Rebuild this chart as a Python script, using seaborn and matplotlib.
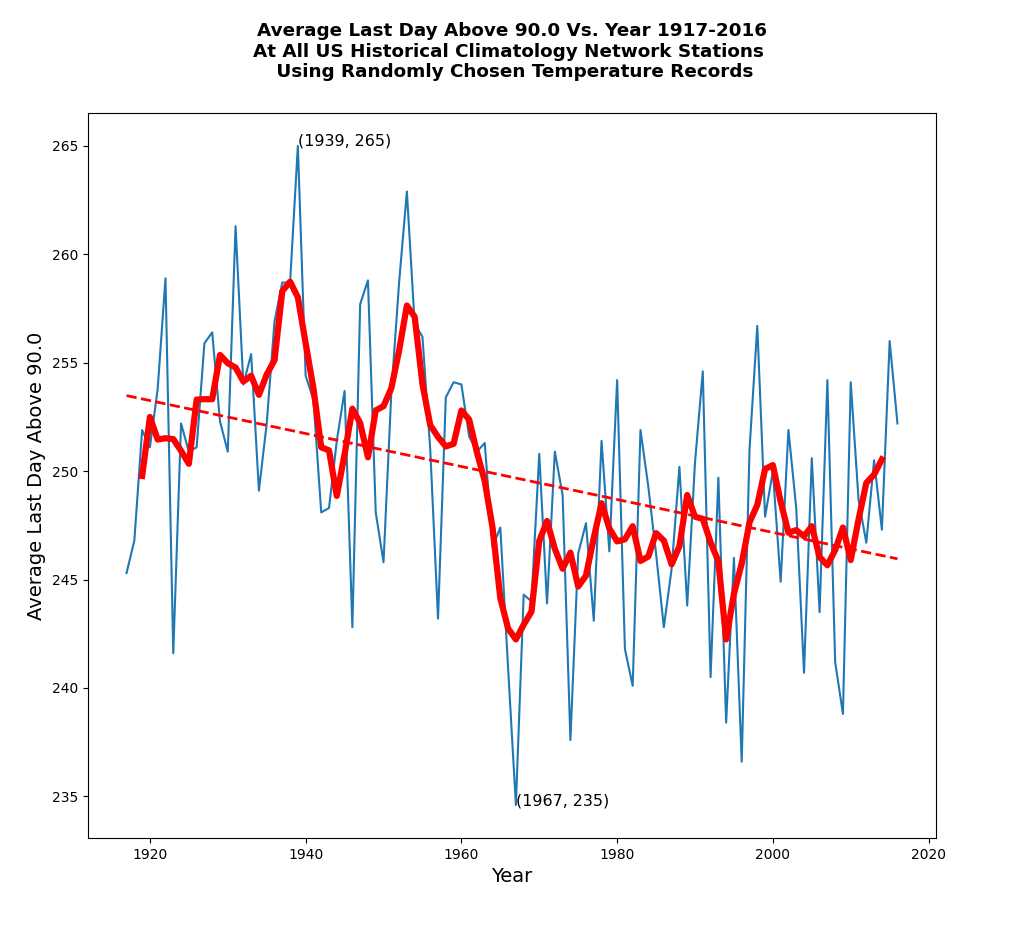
import numpy as np
import pandas as pd
import matplotlib
matplotlib.use("Agg")
import matplotlib.pyplot as plt
import seaborn as sns

years = list(range(1917, 2017))
last_day = [
    245.3, 246.8, 251.9, 251.1, 253.8, 258.9, 241.6, 252.2, 250.9, 251.1,   # 1917-1926
    255.9, 256.4, 252.3, 250.9, 261.3, 254.0, 255.4, 249.1, 252.2, 256.9,   # 1927-1936
    258.7, 258.7, 265.0, 254.4, 253.3, 248.1, 248.3, 251.4, 253.7, 242.8,   # 1937-1946
    257.7, 258.8, 248.1, 245.8, 253.6, 258.7, 262.9, 256.8, 256.2, 251.0,   # 1947-1956
    243.2, 253.4, 254.1, 254.0, 251.6, 250.9, 251.3, 246.5, 247.4, 240.9,   # 1957-1966
    234.6, 244.3, 244.0, 250.8, 243.9, 250.9, 248.9, 237.6, 246.2, 247.6,   # 1967-1976
    243.1, 251.4, 246.3, 254.2, 241.8, 240.1, 251.9, 249.3, 246.2, 242.8,   # 1977-1986
    245.5, 250.2, 243.8, 250.4, 254.6, 240.5, 249.7, 238.4, 246.0, 236.6,   # 1987-1996
    251.0, 256.7, 247.9, 250.0, 244.9, 251.9, 248.3, 240.7, 250.6, 243.5,   # 1997-2006
    254.2, 241.2, 238.8, 254.1, 248.7, 246.7, 250.5, 247.3, 256.0, 252.2,   # 2007-2016
]

df = pd.DataFrame({"Year": years, "Value": last_day})
df["Smooth"] = df["Value"].rolling(5, center=True).mean()
coef = np.polyfit(df["Year"], df["Value"], 1)
df["Trend"] = np.polyval(coef, df["Year"])

fig = plt.figure(figsize=(10.24, 9.51), dpi=100)
ax = fig.add_axes([88 / 1024, 1 - 838 / 951, (936 - 88) / 1024, (838 - 113) / 951])

sns.lineplot(data=df, x="Year", y="Value", ax=ax, color="#1f77b4", linewidth=1.5)
sns.lineplot(data=df.dropna(), x="Year", y="Smooth", ax=ax, color="red", linewidth=4.5)
sns.lineplot(data=df, x="Year", y="Trend", ax=ax, color="red", linewidth=2, linestyle="--")

imax = int(np.argmax(last_day))
imin = int(np.argmin(last_day))
ax.annotate("({}, {})".format(years[imax], int(round(last_day[imax]))),
            xy=(years[imax], last_day[imax]), fontsize=11.4)
ax.annotate("({}, {})".format(years[imin], int(round(last_day[imin]))),
            xy=(years[imin], last_day[imin]), fontsize=11.4)

ax.set_xlabel("Year", fontsize=14)
ax.set_ylabel("Average Last Day Above 90.0", fontsize=14)
fig.suptitle("Average Last Day Above 90.0 Vs. Year 1917-2016\n"
             "At All US Historical Climatology Network Stations \n"
             " Using Randomly Chosen Temperature Records",
             fontsize=13.2, fontweight="bold", y=0.977)

fig.savefig("out.png", dpi=100)
